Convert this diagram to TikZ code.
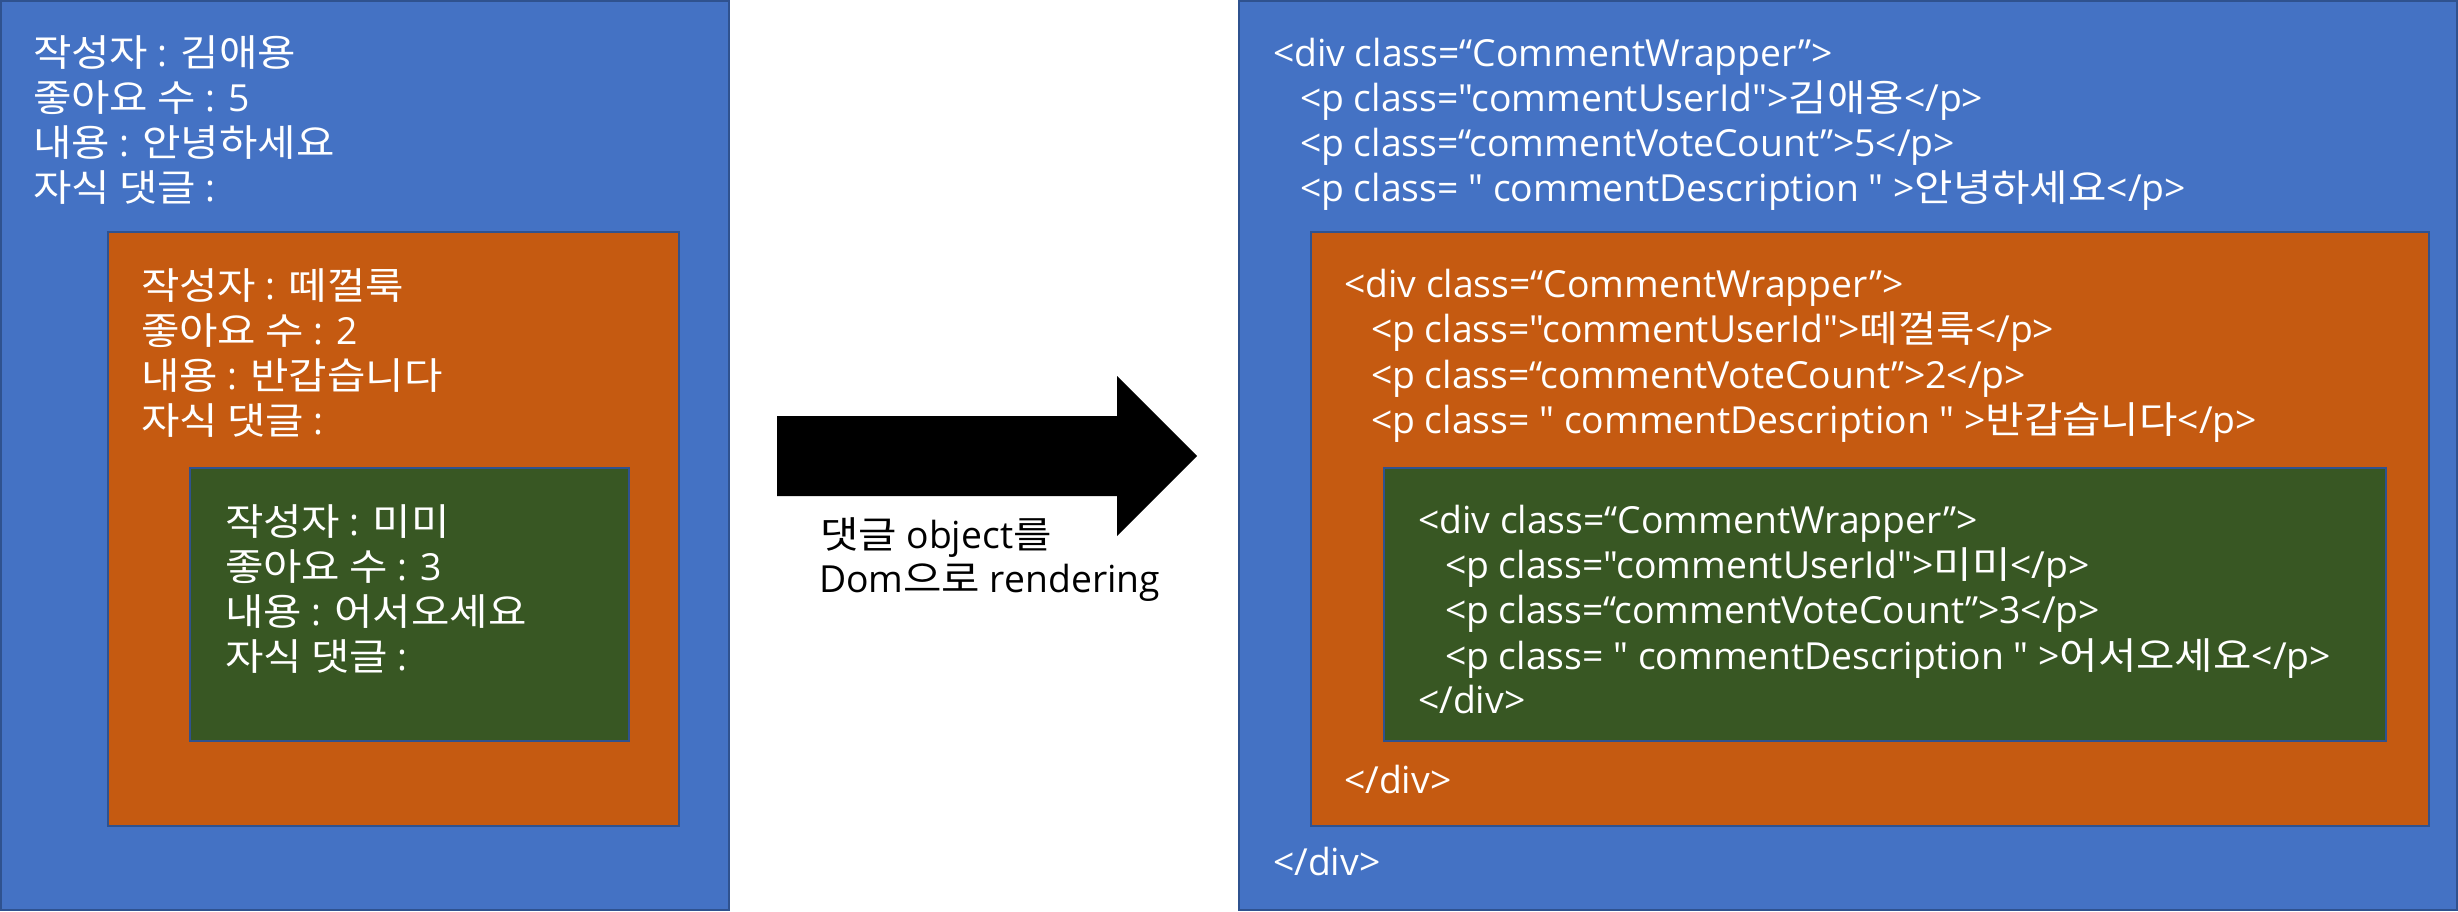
\documentclass[tikz,border=0pt]{standalone}
\usepackage{fontspec}
\setmainfont{Open Sans}[Ligatures=TeXOff]
\newfontfamily\krfont{Noto Sans CJK KR}[FakeStretch=1.12]
\newcommand\hk[1]{{\krfont #1}}
\definecolor{boxblue}{HTML}{4472C4}
\definecolor{boxorange}{HTML}{C55A11}
\definecolor{boxgreen}{HTML}{385723}
\definecolor{edgeblue}{HTML}{2F528F}
\tikzset{
  panel/.style={draw=edgeblue, line width=1.8pt, anchor=north west, inner sep=0pt, outer sep=0pt},
  txt/.style={anchor=base west, inner sep=0pt, outer sep=0pt, text=white, font=\fontsize{37.3pt}{45pt}\selectfont},
  blk/.style={txt, text=black},
}
\begin{document}
\begin{tikzpicture}[x=1pt, y=-1pt]
\useasboundingbox (0,0) rectangle (2458,912);
% left panels
\node[panel, fill=boxblue, minimum width=728pt, minimum height=909pt] (lb) at (1,1) {};
\node[panel, fill=boxorange, minimum width=571pt, minimum height=594pt] (lo) at (108,232) {};
\node[panel, fill=boxgreen, minimum width=439pt, minimum height=273pt] (lg) at (190,468) {};
% right panels
\node[panel, fill=boxblue, minimum width=1218pt, minimum height=909pt] (rb) at (1239,1) {};
\node[panel, fill=boxorange, minimum width=1118pt, minimum height=594pt] (ro) at (1311,232) {};
\node[panel, fill=boxgreen, minimum width=1002pt, minimum height=273pt] (rg) at (1384,468) {};

% left blue text
\node[txt] (lb1) at (33,67)  {\hk{작성자} : \hk{김애용}};
\node[txt] (lb2) at (33,112) {\hk{좋아요 수} : 5};
\node[txt] (lb3) at (33,157) {\hk{내용} : \hk{안녕하세요}};
\node[txt] (lb4) at (33,202) {\hk{자식 댓글} :};
% left orange text
\node[txt] (lo1) at (141,299) {\hk{작성자} : \hk{떼껄룩}};
\node[txt] (lo2) at (141,344) {\hk{좋아요 수} : 2};
\node[txt] (lo3) at (141,389) {\hk{내용} : \hk{반갑습니다}};
\node[txt] (lo4) at (141,434) {\hk{자식 댓글} :};
% left green text
\node[txt] (lg1) at (225,535) {\hk{작성자} : \hk{미미}};
\node[txt] (lg2) at (225,580) {\hk{좋아요 수} : 3};
\node[txt] (lg3) at (225,625) {\hk{내용} : \hk{어서오세요}};
\node[txt] (lg4) at (225,670) {\hk{자식 댓글} :};

% arrow
\coordinate (a1) at (777,416);
\coordinate (a2) at (1117,416);
\coordinate (a3) at (1117,376);
\coordinate (tip) at (1197,456);
\coordinate (a5) at (1117,536);
\coordinate (a6) at (1117,496);
\coordinate (a7) at (777,496);
\fill[black] (a1) -- (a2) -- (a3) -- (tip) -- (a5) -- (a6) -- (a7) -- cycle;
\node[blk] (m1) at (820,548) {\hk{댓글} object\hk{를}};
\node[blk] (m2) at (819,592) {Dom\hk{으로} rendering};

% right blue text
\node[txt] (rb1) at (1273,67)  {<div class=“CommentWrapper”>};
\node[txt] (rb2) at (1300,112) {<p class="commentUserId">\hk{김애용}</p>};
\node[txt] (rb3) at (1300,157) {<p class=“commentVoteCount”>5</p>};
\node[txt] (rb4) at (1300,202) {<p class= " commentDescription " >\hk{안녕하세요}</p>};
\node[txt] (rb5) at (1273,875) {</div>};
% right orange text
\node[txt] (ro1) at (1344,297) {<div class=“CommentWrapper”>};
\node[txt] (ro2) at (1371,342) {<p class="commentUserId">\hk{떼껄룩}</p>};
\node[txt] (ro3) at (1371,388) {<p class=“commentVoteCount”>2</p>};
\node[txt] (ro4) at (1371,433) {<p class= " commentDescription " >\hk{반갑습니다}</p>};
\node[txt] (ro5) at (1344,793) {</div>};
% right green text
\node[txt] (rg1) at (1418,533) {<div class=“CommentWrapper”>};
\node[txt] (rg2) at (1445,578) {<p class="commentUserId">\hk{미미}</p>};
\node[txt] (rg3) at (1445,623) {<p class=“commentVoteCount”>3</p>};
\node[txt] (rg4) at (1445,669) {<p class= " commentDescription " >\hk{어서오세요}</p>};
\node[txt] (rg5) at (1418,713) {</div>};
\end{tikzpicture}
\end{document}
